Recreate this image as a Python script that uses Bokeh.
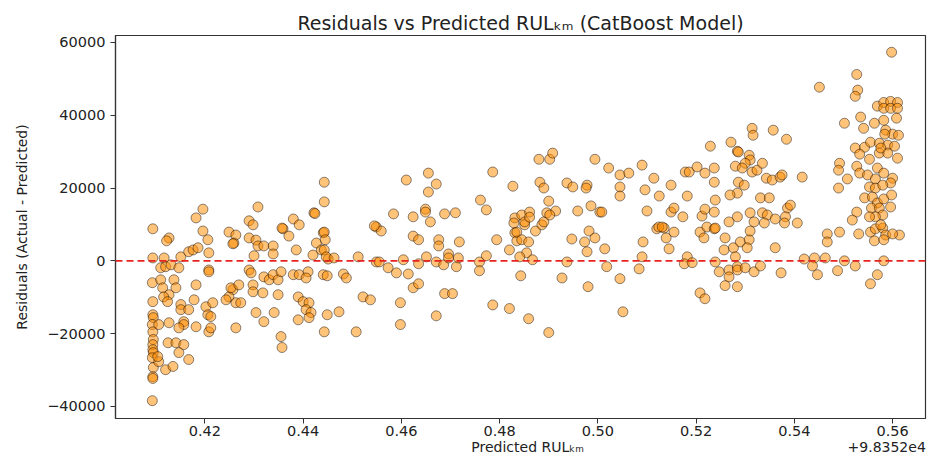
from bokeh.plotting import figure
from bokeh.models import (Range1d, FixedTicker, CustomJSTickFormatter, Span, LinearAxis,
                          ColumnDataSource)
from bokeh.embed import file_html
from bokeh.resources import INLINE

TITLE = "Residuals vs Predicted RUL\u2096\u2098 (CatBoost Model)"
X_LABEL = "Predicted RUL\u2096\u2098"
Y_LABEL = "Residuals (Actual - Predicted)"
OFFSET_TEXT = "+9.8352e4"

# predicted RUL (offset from 9.8352e4 km) and residuals (actual - predicted)
pred_offset = [
    0.4094, 0.4094, 0.4093, 0.4094, 0.4094, 0.4095, 0.4093, 0.4094, 0.4095, 0.4094,
    0.4094, 0.4095, 0.4093, 0.4095, 0.4094, 0.4094, 0.4093, 0.4106, 0.4106, 0.4104,
    0.4120, 0.4135, 0.4117, 0.4127, 0.4122, 0.4151, 0.4167, 0.4176, 0.4186, 0.4196,
    0.4206, 0.4208, 0.4208, 0.4208, 0.4249, 0.4263, 0.4259, 0.4257, 0.4290, 0.4304,
    0.4308, 0.4320, 0.4339, 0.4300, 0.4339, 0.4359, 0.4371, 0.4386, 0.4427, 0.4441,
    0.4437, 0.4110, 0.4120, 0.4131, 0.4147, 0.4110, 0.4114, 0.4137, 0.4141, 0.4127,
    0.4116, 0.4124, 0.4127, 0.4157, 0.4157, 0.4147, 0.4151, 0.4151, 0.4167, 0.4178,
    0.4182, 0.4202, 0.4206, 0.4216, 0.4208, 0.4212, 0.4182, 0.4125, 0.4141, 0.4157,
    0.4147, 0.4167, 0.4257, 0.4249, 0.4263, 0.4273, 0.4243, 0.4253, 0.4269, 0.4290,
    0.4294, 0.4298, 0.4298, 0.4318, 0.4320, 0.4331, 0.4339, 0.4349, 0.4355, 0.4380,
    0.4392, 0.4410, 0.4406, 0.4349, 0.4304, 0.4320, 0.4341, 0.4263, 0.4212, 0.4390,
    0.4400, 0.4412, 0.4406, 0.4416, 0.4390, 0.4412, 0.4443, 0.4355, 0.4357, 0.4441,
    0.4420, 0.4451,
    0.4196, 0.4182, 0.4308, 0.4290, 0.4298, 0.4357, 0.4380, 0.4392, 0.4422, 0.4424,
    0.4443, 0.4443,
    0.4443, 0.4445, 0.4443, 0.4447, 0.4463, 0.4549, 0.4559, 0.4624, 0.4635, 0.4676,
    0.4676, 0.4718, 0.4794, 0.4831, 0.4835, 0.4820, 0.4512, 0.4549, 0.4555, 0.4604,
    0.4635, 0.4651, 0.4671, 0.4686, 0.4696, 0.4696, 0.4712, 0.4716, 0.4759, 0.4759,
    0.4773, 0.4449, 0.4482, 0.4488, 0.4573, 0.4590, 0.4614, 0.4624, 0.4635, 0.4522,
    0.4537, 0.4688, 0.4704, 0.4598, 0.4449, 0.4473, 0.4671, 0.4786, 0.4820, 0.4508,
    0.4598, 0.4843,
    0.4835, 0.4851, 0.4873, 0.4886, 0.4845, 0.4859, 0.4855, 0.4841, 0.4867, 0.4947,
    0.4973, 0.4982, 0.4994, 0.4978, 0.5014, 0.4937, 0.4927, 0.4980, 0.5018, 0.5045,
    0.5092, 0.5090, 0.5084, 0.5120, 0.5135, 0.5155, 0.5139, 0.5145, 0.5182, 0.5176,
    0.5192, 0.5208, 0.5216, 0.5222, 0.5237, 0.5208, 0.5218, 0.4859, 0.4900, 0.5051,
    0.5239, 0.5259, 0.5257, 0.5276, 0.5290, 0.5308, 0.5310, 0.5304, 0.5280, 0.5239,
    0.5247, 0.5267, 0.5284, 0.5284, 0.5300, 0.5318, 0.5331, 0.5267, 0.5259, 0.5284,
    0.5361, 0.5373, 0.5420, 0.5441, 0.5463, 0.5437, 0.5447, 0.5488, 0.5502, 0.5524,
    0.5555, 0.5569, 0.5582, 0.5467, 0.5467, 0.5492, 0.5531, 0.5555, 0.5565, 0.5580,
    0.5563, 0.5586, 0.5582, 0.5614, 0.5600,
    0.4610, 0.4655, 0.4671, 0.4655, 0.4649, 0.4649, 0.4659, 0.4688, 0.4710, 0.4584,
    0.4624, 0.4545, 0.4761, 0.4773, 0.4786, 0.4827, 0.4831, 0.4829,
    0.4880, 0.4902, 0.4908, 0.4994, 0.5022, 0.5045, 0.5063, 0.5090, 0.5114, 0.5149,
    0.5096, 0.5125, 0.5182, 0.5178, 0.5186, 0.5202, 0.5218, 0.5229, 0.5237, 0.5237,
    0.4882, 0.4890, 0.4937, 0.4949, 0.4978, 0.4976, 0.4900, 0.5045, 0.5045, 0.4959,
    0.4986, 0.5004, 0.5008, 0.4845, 0.4861, 0.4851, 0.4861, 0.4890, 0.4896, 0.4914,
    0.4902, 0.5100, 0.5149, 0.5155, 0.5173, 0.5212, 0.5218, 0.5237, 0.5124, 0.5131,
    0.5598, 0.5527, 0.5529, 0.5524, 0.5451, 0.5569, 0.5582, 0.5596, 0.5610, 0.5582,
    0.5596, 0.5610, 0.5535, 0.5502, 0.5541, 0.5563, 0.5582, 0.5608, 0.5586, 0.5600,
    0.5612, 0.5584, 0.5524, 0.5543, 0.5555, 0.5573, 0.5590, 0.5604, 0.5533, 0.5553,
    0.5573, 0.5590, 0.5610, 0.5576, 0.5492, 0.5490, 0.5527, 0.5508, 0.5490, 0.5533,
    0.5549, 0.5569, 0.5582, 0.5565, 0.5600, 0.5596, 0.5553, 0.5565, 0.5580, 0.5543,
    0.5559, 0.5569, 0.5582, 0.5598, 0.5596, 0.5557, 0.5573, 0.5580, 0.5565, 0.5553,
    0.5527, 0.5518, 0.5576, 0.5314, 0.5316, 0.5357, 0.5384, 0.5271, 0.5284, 0.5286,
    0.5308, 0.5310, 0.5300, 0.5314, 0.5280, 0.5294, 0.5324, 0.5335, 0.5239, 0.5286,
    0.5298, 0.5284, 0.5269, 0.5343, 0.5355, 0.5371, 0.5375, 0.5416, 0.5331, 0.5349,
    0.5310, 0.5335, 0.5345, 0.5339, 0.5318, 0.5284, 0.5267, 0.5386, 0.5392, 0.5382,
    0.5361, 0.5406, 0.5380,
]

residual = [
    8800, 800, -6000, -11200, -14800, -15600, -17500, -19500, -21600, -23000,
    -24400, -25200, -26600, -29300, -31800, -32300, -38400, -17500, -27700, -26300,
    -29900, -29000, 800, 6300, 5500, 1100, 2500, 3000, 3600, 8200,
    5800, 2200, -2500, -3000, 7900, 7100, 4900, 4700, 6300, 5700,
    4100, 4100, 4100, 1400, 1900, 8800, 6800, 3000, 4900, 7700,
    3000, -1900, -1600, -1100, -1900, -5200, -7400, -5200, -7400, -9300,
    -9900, -11200, -17000, -16700, -17500, -18400, -12000, -13400, -13400, -10700,
    -6600, -12600, -14800, -11500, -19500, -18400, -18100, -22500, -22500, -23000,
    -25200, -27100, -7900, -9900, -11500, -11500, -10700, -7400, -6600, -2500,
    -3300, -6600, -8500, -8800, -4400, -5200, -3800, -5200, -3000, -3800,
    -3800, -3000, -4700, -9300, -14200, -16700, -14200, -18400, -15300, -9900,
    -11200, -11500, -13400, -14200, -16200, -15600, -19500, -20800, -23800, -3800,
    1600, 500,
    14200, 11800, 14800, 11000, 9900, 9000, 11500, 9900, 13200, 13000,
    21600, 16200,
    7900, 5800, 3000, 1100, 800, 9300, 8200, 6800, 5800, 5800,
    4100, 5200, 5800, 7700, 5500, 3000, 1100, -300, -300, 300,
    -800, 1100, -300, -1100, 1900, 800, -1600, 800, -300, -2700,
    1400, -4100, -3600, -4700, -1900, -3300, -3600, -7400, -6300, -9900,
    -10700, -9000, -9000, -11500, -14800, -14000, -15100, -12100, -13100, -19500,
    -17500, -4100,
    7900, 9900, 8200, 9900, 5800, 5200, 2200, 1100, 300, 6000,
    5200, 8200, 6300, 2500, 3300, -300, -4700, -7100, -1600, -4900,
    5200, 1100, -2200, 8800, 9000, 7900, 6300, 3300, 1100, -800,
    -500, 7900, 6300, 9300, 8800, -8800, -10400, -15900, -19700, -14000,
    9000, 6300, 3000, 3600, 5200, 5800, 8200, 3600, 1100, -300,
    -3000, -2500, -1600, -2500, -1900, -3000, -1400, -4400, -6800, -7100,
    3600, -3300, 500, 800, 800, -1400, -3800, -2700, 0, -1400,
    -6300, -3800, 0, 7400, 5200, 7900, 7400, 7900, 8800, 9000,
    5500, 7100, 5800, 7100, 7400,
    22200, 24100, 21100, 18900, 14200, 13400, 10700, 12900, 13200, 12900,
    12100, 9600, 16700, 14000, 24400, 20500, 11800, 10400,
    27900, 27900, 29600, 27900, 25500, 23600, 24100, 26300, 22700, 20800,
    19500, 17800, 17800, 24400, 24400, 25800, 24100, 31500, 25500, 21600,
    21600, 20000, 21400, 20300, 20800, 20000, 16400, 20300, 17800, 13700,
    15100, 13400, 13400, 12600, 13400, 10700, 12000, 10700, 13200, 13700,
    12600, 13700, 13400, 14500, 12100, 12300, 14200, 13400, 9300, 9300,
    57300, 51200, 46900, 45200, 47700, 42500, 43500, 43800, 43500, 41900,
    41900, 41900, 39500, 37800, 36400, 37800, 38600, 39200, 35900, 34800,
    34500, 34800, 31000, 31200, 32600, 32300, 31800, 31500, 29300, 27900,
    29600, 29600, 28200, 31000, 26800, 24900, 26000, 22500, 20000, 24100,
    23600, 25500, 24100, 22500, 22700, 21400, 20300, 20000, 20800, 17300,
    17500, 15900, 17000, 18100, 14800, 14500, 14500, 12600, 12100, 12100,
    13400, 11200, 9900, 36400, 34500, 35900, 33400, 32600, 30100, 29900,
    29000, 27700, 26800, 24400, 26000, 25500, 24900, 26800, 16700, 21600,
    20800, 18600, 18100, 22700, 22200, 23000, 23600, 23000, 17300, 17300,
    13200, 13200, 12600, 10400, 10700, 12100, 10700, 14500, 15300, 12100,
    11500, 10400, 10400,
]

x_ticks = [0.42, 0.44, 0.46, 0.48, 0.50, 0.52, 0.54, 0.56]
y_ticks = [-40000, -20000, 0, 20000, 40000, 60000]

n = min(len(pred_offset), len(residual))
src = ColumnDataSource(data=dict(x=pred_offset[:n], y=residual[:n]))

FONT = "DejaVu Sans"
TXT = "#222222"
x_min, x_max = 0.4018, 0.5667
y_min, y_max = -43300, 61900

p = figure(width=930, height=457, output_backend="svg", toolbar_location=None,
           x_range=Range1d(x_min, x_max), y_range=Range1d(y_min, y_max),
           min_border_left=115, min_border_right=5, min_border_top=35, min_border_bottom=38,
           title=TITLE)
p.background_fill_color = "white"
p.border_fill_color = "white"
p.outline_line_color = "#333333"
p.outline_line_width = 1.2
p.grid.visible = False

p.title.align = "center"
p.title.text_font = FONT
p.title.text_font_size = "19px"
p.title.text_font_style = "normal"
p.title.text_color = TXT
p.title.standoff = 4

p.scatter("x", "y", source=src, size=10, marker="circle",
          fill_color="#ff8c00", fill_alpha=0.52, line_color="black", line_alpha=0.45, line_width=1)

p.add_layout(Span(location=0, dimension="width", line_color="#e8231f", line_dash="7 4", line_width=1.6))

for ax in (p.xaxis[0], p.yaxis[0]):
    ax.axis_line_color = "#333333"
    ax.axis_line_width = 1.2
    ax.major_tick_line_color = "#333333"
    ax.major_tick_out = 5
    ax.major_tick_in = 0
    ax.minor_tick_out = 0
    ax.minor_tick_in = 0
    ax.major_label_text_font = FONT
    ax.major_label_text_font_size = "14.5px"
    ax.major_label_text_color = TXT
    ax.axis_label_text_font = FONT
    ax.axis_label_text_font_size = "14px"
    ax.axis_label_text_font_style = "normal"
    ax.axis_label_text_color = TXT

xa = p.xaxis[0]
xa.ticker = FixedTicker(ticks=x_ticks)
xa.formatter = CustomJSTickFormatter(code="return tick.toFixed(2);")
xa.major_label_standoff = 2

# second, line-less axis below carrying the axis title and the offset text on one row
label_pos = [0.4857, 0.5588]
xa2 = LinearAxis(ticker=FixedTicker(ticks=label_pos),
                 formatter=CustomJSTickFormatter(args=dict(lbl=X_LABEL, off=OFFSET_TEXT),
                                                 code="return tick < 0.52 ? lbl : off;"))
xa2.axis_line_color = None
xa2.major_tick_line_color = None
xa2.minor_tick_line_color = None
xa2.major_tick_out = 0
xa2.major_tick_in = 0
xa2.major_label_standoff = 0
xa2.major_label_text_font = FONT
xa2.major_label_text_font_size = "14px"
xa2.major_label_text_color = TXT
p.add_layout(xa2, "below")

ya = p.yaxis[0]
ya.ticker = FixedTicker(ticks=y_ticks)
ya.formatter = CustomJSTickFormatter(code="return tick.toFixed(0).replace('-', '\u2212');")
ya.axis_label = Y_LABEL
ya.major_label_standoff = 5
ya.axis_label_standoff = 14

open("out.html", "w").write(file_html(p, INLINE))
